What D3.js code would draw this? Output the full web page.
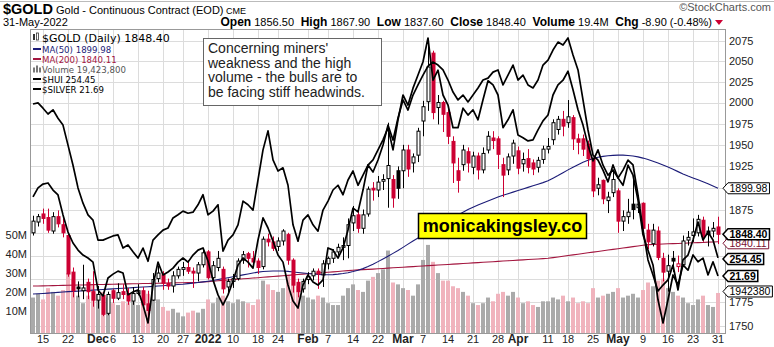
<!DOCTYPE html>
<html><head><meta charset="utf-8">
<script src="https://cdn.jsdelivr.net/npm/d3@7"></script>
<style>body{margin:0;background:#fff}svg{display:block}</style>
</head><body>
<svg id="c" width="774" height="347"></svg>
<script>
// ---------------- DATA ----------------
const dates = ["2021-11-11","2021-11-12","2021-11-15","2021-11-16","2021-11-17","2021-11-18","2021-11-19","2021-11-22","2021-11-23","2021-11-24",
"2021-11-26","2021-11-29","2021-11-30","2021-12-01","2021-12-02","2021-12-03","2021-12-06","2021-12-07","2021-12-08","2021-12-09",
"2021-12-10","2021-12-13","2021-12-14","2021-12-15","2021-12-16","2021-12-17","2021-12-20","2021-12-21","2021-12-22","2021-12-23",
"2021-12-27","2021-12-28","2021-12-29","2021-12-30","2021-12-31","2022-01-03","2022-01-04","2022-01-05","2022-01-06","2022-01-07",
"2022-01-10","2022-01-11","2022-01-12","2022-01-13","2022-01-14","2022-01-18","2022-01-19","2022-01-20","2022-01-21","2022-01-24",
"2022-01-25","2022-01-26","2022-01-27","2022-01-28","2022-01-31","2022-02-01","2022-02-02","2022-02-03","2022-02-04","2022-02-07",
"2022-02-08","2022-02-09","2022-02-10","2022-02-11","2022-02-14","2022-02-15","2022-02-16","2022-02-17","2022-02-18","2022-02-22",
"2022-02-23","2022-02-24","2022-02-25","2022-02-28","2022-03-01","2022-03-02","2022-03-03","2022-03-04","2022-03-07","2022-03-08",
"2022-03-09","2022-03-10","2022-03-11","2022-03-14","2022-03-15","2022-03-16","2022-03-17","2022-03-18","2022-03-21","2022-03-22",
"2022-03-23","2022-03-24","2022-03-25","2022-03-28","2022-03-29","2022-03-30","2022-03-31","2022-04-01","2022-04-04","2022-04-05",
"2022-04-06","2022-04-07","2022-04-08","2022-04-11","2022-04-12","2022-04-13","2022-04-14","2022-04-18","2022-04-19","2022-04-20",
"2022-04-21","2022-04-22","2022-04-25","2022-04-26","2022-04-27","2022-04-28","2022-04-29","2022-05-02","2022-05-03","2022-05-04",
"2022-05-05","2022-05-06","2022-05-09","2022-05-10","2022-05-11","2022-05-12","2022-05-13","2022-05-16","2022-05-17","2022-05-18",
"2022-05-19","2022-05-20","2022-05-23","2022-05-24","2022-05-25","2022-05-26","2022-05-27","2022-05-31"];

const open = [1850,1862,1871,1867,1852,1868,1859,1847,1807,1791,
1787,1796,1786,1777,1782,1763,1787,1779,1786,1784,
1776,1784,1787,1773,1777,1800,1804,1795,1792,1803,
1810,1812,1808,1806,1815,1829,1801,1812,1810,1791,
1797,1800,1820,1827,1822,1819,1813,1843,1840,1835,
1841,1848,1820,1796,1789,1799,1803,1808,1804,1816,
1822,1829,1834,1836,1861,1870,1855,1871,1900,1898,
1908,1911,1910,1920,1920,1944,1929,1938,1978,2001,
2060,1994,2000,1988,1954,1920,1927,1942,1924,1937,
1921,1944,1958,1957,1927,1921,1937,1943,1928,1934,
1929,1924,1933,1945,1956,1968,1980,1976,1982,1957,
1957,1951,1934,1900,1909,1886,1895,1897,1863,1868,
1882,1878,1883,1853,1838,1852,1822,1808,1822,1813,
1815,1842,1847,1850,1864,1852,1852,1856.5];
const high = [1869,1871,1877,1877,1873,1875,1866,1850,1812,1797,
1815,1800,1808,1792,1785,1786,1789,1795,1794,1790,
1791,1794,1791,1787,1806,1814,1808,1800,1808,1813,
1818,1820,1812,1818,1832,1831,1819,1830,1813,1800,
1805,1822,1830,1829,1830,1822,1846,1849,1846,1845,
1854,1850,1822,1800,1800,1807,1811,1811,1820,1824,
1832,1838,1845,1866,1880,1874,1876,1902,1907,1914,
1916,1976,1915,1925,1950,1950,1940,1970,2002,2078,
2063,2009,2002,1992,1960,1935,1950,1947,1942,1941,
1947,1966,1966,1960,1935,1940,1956,1948,1941,1945,
1933,1936,1949,1958,1980,1984,1990,2003,1985,1963,
1962,1955,1935,1912,1910,1896,1920,1900,1875,1888,
1910,1892,1884,1860,1860,1857,1828,1826,1830,1825,
1847,1852,1866,1870,1868,1857,1862,1867.9];
const low = [1847,1857,1860,1850,1849,1856,1845,1802,1780,1780,
1778,1778,1770,1768,1760,1761,1774,1777,1778,1772,
1772,1782,1770,1753,1776,1796,1788,1788,1785,1800,
1803,1805,1790,1797,1812,1799,1797,1808,1784,1783,
1790,1798,1816,1812,1815,1805,1810,1835,1830,1830,
1836,1815,1785,1780,1785,1794,1798,1789,1791,1810,
1817,1825,1820,1822,1852,1850,1849,1868,1886,1890,
1898,1878,1878,1888,1900,1913,1918,1930,1960,1990,
1980,1974,1965,1951,1906,1895,1920,1918,1916,1910,
1917,1940,1945,1922,1890,1915,1928,1916,1919,1917,
1915,1918,1928,1940,1950,1962,1960,1970,1944,1939,
1937,1925,1890,1892,1882,1872,1890,1850,1852,1860,
1865,1872,1850,1832,1835,1820,1797,1786,1807,1807,
1813,1836,1840,1846,1840,1835,1845,1837.6];
const close = [1863,1868,1866,1853,1868,1860,1850,1805,1787,1789,
1790,1786,1777,1783,1762,1783,1779,1785,1783,1776,
1784,1787,1772,1766,1799,1806,1795,1792,1803,1810,
1812,1808,1806,1815,1828,1801,1814,1822,1789,1797,
1800,1819,1826,1822,1818,1812,1843,1840,1833,1841,
1852,1820,1793,1786,1797,1802,1808,1805,1816,1822,
1829,1834,1836,1859,1869,1855,1870,1899,1898,1907,
1910,1926,1889,1900,1944,1922,1936,1966,1995,2043,
1988,2000,1986,1960,1929,1909,1944,1929,1937,1921,
1940,1960,1955,1939,1915,1936,1952,1923,1933,1924,
1922,1932,1945,1948,1976,1980,1972,1983,1957,1953,
1945,1934,1897,1904,1888,1890,1910,1863,1868,1873,
1876,1882,1855,1840,1853,1823,1807,1814,1819,1816,
1841,1845,1851,1865,1846,1848,1855,1848.4];
const prevClose0 = 1849;
// volume, millions of contracts
const volume = [17,19,16,22,20,18,21,30,27,18,
14,18,24,19,20,17,14,13,15,14,
15,13,16,19,20,16,12,10,11,9,
7,9,10,9,11,16,14,17,18,15,
14,16,15,14,13,16,26,24,21,20,
22,29,30,23,18,17,16,18,17,14,
13,13,18,22,24,21,20,26,28,30,
32,42,25,24,22,21,18,24,37,45,
36,30,26,26,23,22,20,18,14,13,
14,17,15,19,20,18,20,17,14,15,
13,12,15,15,17,16,18,15,17,14,
15,14,22,17,18,19,20,22,17,18,
19,17,21,25,23,26,27,22,20,18,
17,14,13,16,18,13,12,19.4238];
const ma50 = [1783.5,1783.8,1784.1,1784.4,1784.8,1785.2,1785.6,1786.0,1786.3,1786.6,
1787.0,1787.3,1787.6,1788.0,1788.3,1788.7,1789.0,1789.4,1789.7,1790.0,
1790.3,1790.7,1791.0,1791.3,1791.7,1792.0,1792.4,1792.8,1793.2,1793.6,
1794.0,1794.6,1795.2,1795.8,1796.5,1797.2,1798.0,1799.0,1800.0,1801.0,
1802.0,1803.0,1804.0,1805.0,1806.0,1807.0,1807.6,1808.0,1808.2,1808.3,
1808.2,1807.8,1807.2,1806.6,1806.0,1805.5,1805.0,1804.6,1804.3,1804.2,
1804.3,1804.8,1805.5,1806.4,1807.6,1809.0,1810.8,1813.0,1815.6,1818.4,
1821.3,1824.3,1827.4,1830.6,1834.0,1837.5,1841.0,1844.2,1847.4,1850.6,
1853.8,1857.0,1860.2,1863.4,1866.6,1869.8,1873.0,1876.0,1878.6,1881.0,
1883.4,1885.6,1887.8,1890.0,1892.0,1893.8,1895.6,1897.4,1899.2,1901.0,
1902.8,1904.6,1906.4,1908.5,1911.5,1914.5,1917.8,1921.0,1924.0,1927.0,
1929.8,1932.0,1934.0,1935.5,1936.6,1937.3,1937.8,1938.0,1938.0,1937.6,
1937.0,1936.0,1934.6,1933.0,1931.0,1929.0,1926.6,1924.2,1921.6,1919.0,
1916.4,1914.0,1911.8,1909.6,1907.4,1905.0,1902.5,1899.98];
const ma200 = [1792.0,1792.1,1792.2,1792.4,1792.5,1792.6,1792.7,1792.8,1793.0,1793.1,
1793.2,1793.3,1793.5,1793.6,1793.7,1793.8,1793.9,1794.1,1794.2,1794.3,
1794.4,1794.5,1794.7,1794.8,1794.9,1795.0,1795.1,1795.3,1795.4,1795.5,
1795.6,1795.7,1795.9,1796.0,1796.4,1796.8,1797.2,1797.7,1798.1,1798.5,
1798.9,1799.3,1799.8,1800.2,1800.6,1801.0,1801.4,1801.9,1802.3,1802.7,
1803.1,1803.5,1804.0,1804.4,1804.8,1805.2,1805.6,1806.1,1806.5,1806.9,
1807.3,1807.7,1808.2,1808.6,1809.0,1809.4,1809.7,1810.0,1810.3,1810.7,
1811.0,1811.3,1811.7,1812.0,1812.3,1812.7,1813.0,1813.3,1813.7,1814.0,
1814.3,1814.7,1815.0,1815.3,1815.7,1816.0,1816.3,1816.7,1817.0,1817.3,
1817.7,1818.0,1818.3,1818.7,1819.0,1819.3,1819.7,1820.0,1820.3,1820.7,
1821.0,1821.3,1821.7,1822.0,1822.8,1823.5,1824.3,1825.0,1825.8,1826.5,
1827.3,1828.0,1828.8,1829.5,1830.3,1831.0,1831.8,1832.5,1833.3,1834.0,
1834.8,1835.5,1836.3,1837.0,1837.2,1837.4,1837.7,1837.9,1838.1,1838.3,
1838.5,1838.8,1839.0,1839.2,1839.4,1839.7,1839.9,1840.11];
const hui = [276.8,280.1,281.5,281.9,279.3,277.5,270.2,263.9,259.9,257.3,
255.5,254.4,252.9,242.7,240.5,247.1,248.5,249.6,248.9,240.9,
242.0,242.7,237.2,230.6,244.5,252.9,248.2,249.3,250.7,252.9,
254.4,252.9,255.5,257.3,258.1,253.3,246.4,240.9,237.2,240.9,
246.0,251.8,254.4,252.9,250.7,261.0,269.1,265.4,260.6,255.5,
252.9,244.5,238.7,236.1,244.5,248.2,245.6,244.5,246.4,258.1,
257.3,254.4,258.1,264.7,272.7,271.3,279.3,288.5,285.9,290.3,
295.8,303.1,297.6,305.7,312.3,308.6,314.1,317.8,321.4,324.7,
326.2,325.1,323.3,319.6,315.2,312.3,314.1,311.6,314.1,316.7,
319.6,320.3,322.5,323.3,317.8,321.4,325.1,319.6,321.4,317.8,
316.7,319.6,325.1,326.9,330.6,333.5,332.4,335.0,328.8,323.3,
312.3,301.3,292.1,290.3,286.6,282.3,288.5,283.7,286.6,290.3,
288.5,277.5,264.7,253.7,248.2,242.3,244.5,246.4,251.8,242.7,
253.7,255.5,261.0,267.6,261.0,263.9,261.0,254.45];
const silver = [24.95,24.97,24.87,24.76,24.84,24.68,24.55,24.17,23.79,23.36,
23.07,22.85,22.75,22.37,22.37,22.41,22.45,22.47,22.22,22.28,
22.15,22.03,22.22,21.97,22.37,22.47,22.56,22.60,22.79,22.85,
22.92,22.88,22.90,23.04,23.23,22.85,22.92,23.04,22.16,22.37,
22.47,22.66,23.11,23.04,22.94,23.51,24.08,24.44,23.89,23.68,
23.74,23.41,22.66,22.35,22.75,22.85,22.66,22.54,22.94,23.11,
23.32,23.41,23.23,23.51,23.68,23.41,23.60,23.79,23.89,24.08,
24.27,24.50,24.08,24.65,25.12,24.93,25.25,25.50,25.75,26.20,
25.40,25.59,25.12,24.93,24.50,24.50,24.87,24.74,24.84,24.65,
25.03,25.39,25.31,25.12,24.50,24.65,24.84,24.36,24.31,24.25,
24.27,24.46,24.63,24.74,25.12,25.31,25.40,25.57,25.22,24.84,
24.55,24.17,23.87,24.08,23.79,23.60,23.70,23.55,23.41,23.79,
23.60,23.13,22.47,22.18,21.90,21.24,20.80,21.24,21.71,21.52,
21.90,21.80,22.09,21.96,22.03,21.71,21.96,21.69];

const priceTicks = [1750,1775,1800,1825,1850,1875,1900,1925,1950,1975,2000,2025,2050,2075];
const priceTickLabels = ["1750","1775","","","","1875","","1925","1950","1975","2000","2025","2050","2075"];
const volTicks = [10,20,30,40,50];
const volTickLabels = ["10M","20M","30M","40M","50M"];
const tickDates = ["2021-11-15","2021-11-22","2021-12-01","2021-12-06","2021-12-13","2021-12-20","2021-12-27","2022-01-03","2022-01-10","2022-01-18","2022-01-24","2022-02-01","2022-02-07","2022-02-14","2022-02-22","2022-03-01","2022-03-07","2022-03-14","2022-03-21","2022-03-28","2022-04-01","2022-04-11","2022-04-18","2022-04-25","2022-05-02","2022-05-09","2022-05-16","2022-05-23","2022-05-31"];
const tickLabels = ["15","22","Dec","6","13","20","27","2022","10","18","24","Feb","7","14","22","Mar","7","14","21","28","Apr","11","18","25","May","9","16","23","31"];
const boldTicks = ["Dec","2022","Feb","Mar","Apr","May"];
const noteLines = ["Concerning miners'","weakness and the high","volume - the bulls are to","be facing stiff headwinds."];

// ---------------- DRAW ----------------
const SANS = "'Liberation Sans', Arial, sans-serif";
const LEG = "'DejaVu Sans', Verdana, sans-serif";
const RED = "#cc0033", GRID = "#dcdcdc";
const P = {l:30, r:726, t:29, b:333};
const svg = d3.select('#c');

const x = d3.scalePoint().domain(dates).range([33, 718]);
const y = d3.scaleLog().domain([1750, 2075]).range([325.7, 41]);
const yv = d3.scaleLinear().domain([0, 50]).range([329.5, 235.5]);
const yh = d3.scaleLinear().domain(d3.extent(hui)).range([323, 38]);
const ys = d3.scaleLinear().domain(d3.extent(silver)).range([323, 38]);

// top rule
svg.append('line').attr('x1',0).attr('x2',774).attr('y1',1.5).attr('y2',1.5).attr('stroke','#bbb');

// header
const h1 = svg.append('text').attr('x',3).attr('y',14).style('font-family',SANS).attr('fill','#000');
h1.append('tspan').text('$GOLD').style('font-weight','bold').style('font-size','14.5px');
h1.append('tspan').text(' Gold - Continuous Contract (EOD)').style('font-size','11px');
h1.append('tspan').text(' CME').style('font-size','9px');
svg.append('text').attr('x',771).attr('y',11).attr('text-anchor','end').style('font-family',SANS).style('font-size','11px').attr('fill','#555').text('\u00A9StockCharts.com');
svg.append('text').attr('x',3).attr('y',26).style('font-family',SANS).style('font-size','11px').text('31-May-2022');
const info = [['Open','1856.50'],['High','1867.90'],['Low','1837.60'],['Close','1848.40'],['Volume','19.4M'],['Chg','-8.90 (-0.48%)']];
const h2 = svg.append('text').attr('x',712).attr('y',26).attr('text-anchor','end').style('font-family',SANS);
info.forEach((d,k)=>{
  h2.append('tspan').text((k?'  ':'')+d[0]).style('font-weight','bold').style('font-size','12px').attr('xml:space','preserve');
  h2.append('tspan').text(' '+d[1]).style('font-size','11px');
});
svg.append('path').attr('d','M715,20 L723,20 L719,25 Z').attr('fill',RED);

// clip
svg.append('clipPath').attr('id','pc').append('rect').attr('x',P.l).attr('y',P.t).attr('width',P.r-P.l).attr('height',P.b-P.t);
const g = svg.append('g').attr('clip-path','url(#pc)');

// grid
g.selectAll('.hg').data(priceTicks).join('line').attr('x1',P.l).attr('x2',P.r)
 .attr('y1',d=>Math.round(y(d))+0.5).attr('y2',d=>Math.round(y(d))+0.5).attr('stroke',GRID);
g.selectAll('.vg').data(tickDates).join('line').attr('y1',P.t).attr('y2',P.b)
 .attr('x1',d=>Math.round(x(d))+0.5).attr('x2',d=>Math.round(x(d))+0.5).attr('stroke',GRID);

const up = close.map((c,i)=> c >= (i ? close[i-1] : prevClose0));

// volume
g.selectAll('.vb').data(volume).join('rect')
 .attr('x',(d,i)=>x(dates[i])-2).attr('width',4)
 .attr('y',d=>yv(d)).attr('height',d=>P.b - yv(d))
 .attr('fill',(d,i)=> up[i] ? '#aaaaaa' : '#f0b3bd');

// moving averages
const lineGen = (sc, arr) => d3.line().x((d,i)=>x(dates[i])).y(d=>sc(d))(arr);
g.append('path').attr('d',lineGen(y, ma200)).attr('fill','none').attr('stroke','#a3163f').attr('stroke-width',1.1);
g.append('path').attr('d',lineGen(y, ma50)).attr('fill','none').attr('stroke','#1c1c78').attr('stroke-width',1.1);

// candles
const cg = g.append('g');
dates.forEach((dt,i)=>{
  const cx = Math.round(x(dt)) + 0.5;
  const col = up[i] ? '#000' : RED;
  cg.append('line').attr('x1',cx).attr('x2',cx).attr('y1',y(high[i])).attr('y2',y(low[i])).attr('stroke',col);
  const top = y(Math.max(open[i],close[i])), bot = y(Math.min(open[i],close[i]));
  cg.append('rect').attr('x',cx-1.5).attr('width',3).attr('y',top).attr('height',Math.max(bot-top,0.8))
    .attr('fill', close[i] < open[i] ? col : '#fff').attr('stroke',col).attr('stroke-width',1);
});

// overlays
g.append('path').attr('d',lineGen(yh, hui)).attr('fill','none').attr('stroke','#000').attr('stroke-width',1.7).attr('stroke-linejoin','round');
g.append('path').attr('d',lineGen(ys, silver)).attr('fill','none').attr('stroke','#000').attr('stroke-width',1.7).attr('stroke-linejoin','round');

// frame
svg.append('rect').attr('x',P.l+0.5).attr('y',P.t+0.5).attr('width',P.r-P.l-1).attr('height',P.b-P.t).attr('fill','none').attr('stroke','#999');

// right axis
svg.selectAll('.pt').data(priceTicks.filter((d,k)=>priceTickLabels[k])).join('text')
 .attr('x',729).attr('y',d=>y(d)).attr('dy','0.36em').style('font-family',SANS).style('font-size','11px').attr('fill','#222')
 .text(d=>String(d));
// left volume axis
svg.selectAll('.vt').data(volTicks).join('text')
 .attr('x',27).attr('y',d=>yv(d)).attr('dy','0.36em').attr('text-anchor','end').style('font-family',SANS).style('font-size','11px').attr('fill','#222')
 .text((d,k)=>volTickLabels[k]);
// x axis labels
svg.selectAll('.xt').data(tickDates).join('text')
 .attr('x',d=>x(d)).attr('y',343).attr('text-anchor','middle').style('font-family',SANS)
 .style('font-size',(d,k)=>boldTicks.includes(tickLabels[k])?'12px':'11px')
 .style('font-weight',(d,k)=>boldTicks.includes(tickLabels[k])?'bold':'normal')
 .attr('fill','#222').text((d,k)=>tickLabels[k]);

// legend
const L = svg.append('g');
L.append('rect').attr('x',33).attr('y',34).attr('width',2).attr('height',6).attr('fill','#333');
L.append('rect').attr('x',36.5).attr('y',33).attr('width',2).attr('height',7).attr('fill','#fff').attr('stroke','#333').attr('stroke-width',0.8);
L.append('text').attr('x',42).attr('y',41.5).style('font-family',LEG).style('font-size','11px').text('$GOLD (Daily) '+close[close.length-1].toFixed(2));
const legRows = [
  ['MA(50) '+ma50[ma50.length-1].toFixed(2), '#1c1c78', 'line'],
  ['MA(200) '+ma200[ma200.length-1].toFixed(2), '#a3163f', 'line'],
  ['Volume '+d3.format(',')(Math.round(volume[volume.length-1]*1e6)), '#555', 'bars'],
  ['$HUI '+hui[hui.length-1].toFixed(2), '#000', 'line'],
  ['$SILVER '+silver[silver.length-1].toFixed(2), '#000', 'line']
];
legRows.forEach((r,k)=>{
  const yy = 52.5 + k*10;
  if (r[2]==='line') L.append('rect').attr('x',33).attr('y',yy-4.5).attr('width',8).attr('height',2).attr('fill',r[1]);
  else { [0,3,6].forEach((o,j)=>L.append('rect').attr('x',33+o).attr('y',yy-7+ (j===1?0:2)).attr('width',2).attr('height',j===1?7:5).attr('fill','#777')); }
  L.append('text').attr('x',42).attr('y',yy).style('font-family',LEG).style('font-size','8.6px').attr('fill',r[1]).text(r[0]);
});

// annotation box
svg.append('rect').attr('x',203.5).attr('y',38.5).attr('width',178).attr('height',67).attr('fill','#fff').attr('stroke','#666');
noteLines.forEach((t,k)=> svg.append('text').attr('x',208).attr('y',53+k*14.5).style('font-family',SANS).style('font-size','14px').attr('fill','#222').text(t));

// yellow watermark box
svg.append('rect').attr('x',418.5).attr('y',213.5).attr('width',168).attr('height',25).attr('fill','#ffff00').attr('stroke','#000').attr('stroke-width',1.5);
svg.append('text').attr('x',502.5).attr('y',232).attr('text-anchor','middle').style('font-family',SANS).style('font-size','18px').style('font-weight','bold').attr('fill','#000').text('monicakingsley.co');

// right value tags
function tag(yc, txt, o){
  const gg = svg.append('g');
  const t = gg.append('text').attr('x',729.5).attr('y',yc).attr('dy','0.36em').style('font-family',SANS)
    .style('font-size','10.5px').style('font-weight',o.bold?'bold':'normal').attr('fill',o.color||'#000').text(txt);
  const w = t.node().getComputedTextLength();
  const h = 5.5;
  gg.insert('path','text').attr('d',`M723,${yc} L728,${yc-h} L${731.5+w},${yc-h} L${731.5+w},${yc+h} L728,${yc+h} Z`)
    .attr('fill','#fff').attr('stroke',o.stroke||'#000').attr('stroke-width',o.bold?1.5:1);
}
const last = dates.length-1;
tag(y(ma50[last]), ma50[last].toFixed(2), {});
tag(y(ma200[last])+1.5, ma200[last].toFixed(2), {color:'#7a1030', stroke:'#7a1030'});
tag(yv(volume[last])-1.5, String(Math.round(volume[last]*1e5)), {});
tag(ys(silver[last]), silver[last].toFixed(2), {bold:true});
tag(yh(hui[last])+1, hui[last].toFixed(2), {bold:true});
tag(y(close[last]), close[last].toFixed(2), {bold:true});
</script>
</body></html>
